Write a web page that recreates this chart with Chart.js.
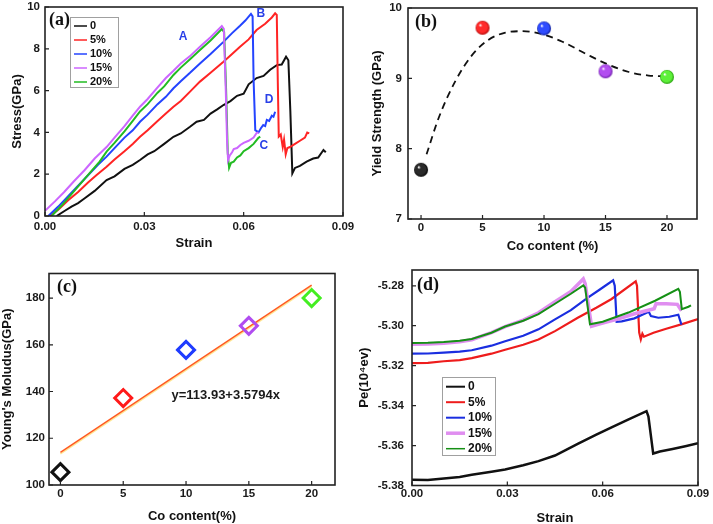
<!DOCTYPE html>
<html><head><meta charset="utf-8">
<script src="https://cdn.jsdelivr.net/npm/chart.js@4.4.1/dist/chart.umd.min.js"></script>
<style>
html,body{margin:0;padding:0;background:#fff;}
#wrap{position:relative;width:713px;height:524px;overflow:hidden;background:#fff;}
canvas{position:absolute;}
</style></head><body>
<div id="wrap">
<canvas id="ca" width="356" height="262" style="left:0;top:0;width:356px;height:262px"></canvas>
<canvas id="cb" width="357" height="262" style="left:356px;top:0;width:357px;height:262px"></canvas>
<canvas id="cc" width="356" height="262" style="left:0;top:262px;width:356px;height:262px"></canvas>
<canvas id="cd" width="357" height="262" style="left:356px;top:262px;width:357px;height:262px"></canvas>
</div>
<script>
// ---------------- DATA ----------------
const seriesLabels = ['0', '5%', '10%', '15%', '20%'];

// (a) stress-strain
const aStrain0 = [0.0035,0.006,0.008,0.010,0.012,0.015,0.0186,0.021,0.024,0.0265,0.0287,0.031,0.033,0.036,0.0388,0.041,0.0438,0.0458,0.048,0.050,0.052,0.0539,0.056,0.058,0.060,0.0615,0.0639,0.066,0.068,0.070,0.0715,0.0728,0.0735,0.0741,0.0747,0.0755,0.077,0.079,0.081,0.0825,0.0841,0.0848];
const aStress0 = [0,0.25,0.45,0.62,0.85,1.2,1.72,1.9,2.25,2.45,2.68,2.95,3.1,3.45,3.79,3.95,4.27,4.51,4.6,4.9,5.1,5.31,5.5,5.75,5.85,6.3,6.6,6.7,7.0,7.22,7.25,7.62,7.45,5.0,2.04,2.3,2.4,2.6,2.75,2.8,3.16,3.05];
const aStrain5 = [0.0015,0.004,0.007,0.010,0.013,0.0155,0.0186,0.021,0.024,0.0265,0.0287,0.031,0.034,0.0365,0.0388,0.041,0.0438,0.0468,0.050,0.0539,0.0565,0.0589,0.0615,0.0639,0.0665,0.0685,0.0695,0.0700,0.0703,0.0706,0.0712,0.0718,0.0722,0.0727,0.0732,0.074,0.0755,0.077,0.0785,0.0792,0.0798];
const aStress5 = [0,0.3,0.75,1.15,1.6,1.95,2.36,2.7,3.1,3.45,3.79,4.1,4.55,4.9,5.23,5.5,5.95,6.43,6.85,7.38,7.75,8.1,8.45,8.9,9.2,9.5,9.7,9.62,6.5,3.8,3.9,3.3,3.65,2.95,3.25,3.3,3.45,3.6,3.75,3.99,3.95];
const aStrain10 = [0.001,0.004,0.007,0.010,0.013,0.016,0.0186,0.021,0.024,0.0265,0.0287,0.031,0.034,0.0365,0.0388,0.041,0.0438,0.0468,0.050,0.0539,0.0565,0.0589,0.0605,0.0622,0.0627,0.063,0.0635,0.0645,0.0652,0.0659,0.0665,0.067,0.0677,0.0685,0.069,0.0695];
const aStress10 = [0,0.45,0.95,1.45,1.95,2.45,2.84,3.25,3.75,4.1,4.51,4.85,5.35,5.7,6.11,6.45,6.85,7.3,7.75,8.33,8.75,9.1,9.35,9.67,9.55,6.5,4.11,4.0,4.2,4.35,4.3,4.6,4.55,4.8,4.75,4.99];
const aStrain15 = [0,0.003,0.0058,0.0086,0.012,0.015,0.0186,0.021,0.024,0.0265,0.0287,0.031,0.034,0.0365,0.0388,0.041,0.0438,0.0468,0.050,0.0534,0.054,0.0546,0.055,0.0553,0.0558,0.0565,0.057,0.058,0.059,0.060,0.0615,0.063,0.0639,0.0645];
const aStress15 = [0.25,0.7,1.15,1.64,2.2,2.75,3.3,3.75,4.3,4.8,5.23,5.6,6.15,6.6,6.95,7.3,7.65,8.1,8.55,9.09,8.95,6.0,3.5,2.68,2.9,3.05,3.2,3.25,3.4,3.5,3.6,3.75,3.97,4.0];
const aStrain20 = [0.002,0.005,0.008,0.011,0.014,0.0165,0.0186,0.021,0.024,0.0265,0.0287,0.031,0.034,0.036,0.0388,0.041,0.0438,0.0468,0.050,0.0534,0.0541,0.0547,0.0552,0.0556,0.0562,0.057,0.058,0.059,0.060,0.0615,0.063,0.0644,0.065];
const aStress20 = [0,0.5,1.05,1.6,2.15,2.6,3.08,3.5,4.05,4.55,5.0,5.35,5.9,6.2,6.75,7.1,7.5,7.94,8.4,8.95,8.8,6.0,3.0,2.3,2.55,2.6,2.8,2.9,3.1,3.25,3.45,3.73,3.8];
const aNoteText = ['A', 'B', 'C', 'D'];
const aNoteStrain = [0.0417, 0.0652, 0.0661, 0.0677];
const aNoteStress = [8.56, 9.67, 3.35, 5.55];

// (b) yield strength
const coContent = [0, 5, 10, 15, 20];
const yieldStrength = [7.70, 9.72, 9.71, 9.10, 9.02];
const bFitCo = [0.45, 1.44, 2.79, 4.15, 5.5, 6.86, 8.2, 9.8, 11.5, 13.6, 15.3, 16.9, 18.5, 20];
const bFitYS = [7.92, 8.44, 8.96, 9.33, 9.55, 9.65, 9.67, 9.63, 9.52, 9.33, 9.19, 9.09, 9.04, 9.03];

// (c) Young's modulus
const youngModulus = [105.5, 137.2, 157.8, 168.1, 180.0];
const cFitCo = [0, 20];
const cFitE = [113.93, 185.52];
const cEquation = 'y=113.93+3.5794x';

// (d) potential energy
const dStrain0 = [0,0.005,0.010,0.015,0.0188,0.025,0.0293,0.035,0.0398,0.045,0.0523,0.058,0.0628,0.068,0.0738,0.0744,0.0759,0.078,0.082,0.086,0.09];
const dPe0 = [-5.3771,-5.3772,-5.3765,-5.3757,-5.3746,-5.3731,-5.3720,-5.3699,-5.3678,-5.3650,-5.3590,-5.3545,-5.3509,-5.3470,-5.3428,-5.3455,-5.3640,-5.3630,-5.3617,-5.3603,-5.3588];
const dStrain5 = [0,0.005,0.010,0.015,0.0188,0.025,0.0293,0.035,0.0398,0.045,0.0523,0.058,0.0628,0.0704,0.0708,0.0715,0.072,0.0725,0.073,0.076,0.080,0.085,0.09];
const dPe5 = [-5.3187,-5.3186,-5.3178,-5.3172,-5.3162,-5.3140,-5.3120,-5.3095,-5.3069,-5.3027,-5.2959,-5.2910,-5.2866,-5.2778,-5.2800,-5.3035,-5.3068,-5.3040,-5.3055,-5.3035,-5.3015,-5.2992,-5.2967];
const dStrain10 = [0,0.005,0.010,0.015,0.0188,0.025,0.0293,0.035,0.0398,0.045,0.050,0.055,0.059,0.0633,0.0638,0.0644,0.066,0.070,0.0735,0.0745,0.0752,0.0775,0.081,0.0838,0.0848];
const dPe10 = [-5.3140,-5.3139,-5.3135,-5.3130,-5.3123,-5.3100,-5.3078,-5.3050,-5.3018,-5.2968,-5.2922,-5.2863,-5.2820,-5.2773,-5.2800,-5.2980,-5.2978,-5.2963,-5.2938,-5.2930,-5.2952,-5.2960,-5.2955,-5.2945,-5.2995];
const dStrain15 = [0,0.005,0.010,0.015,0.0188,0.025,0.0293,0.035,0.0398,0.045,0.050,0.0539,0.0545,0.0565,0.060,0.065,0.070,0.0762,0.0768,0.080,0.0835,0.0848];
const dPe15 = [-5.3093,-5.3092,-5.3088,-5.3080,-5.3070,-5.3035,-5.3005,-5.2972,-5.2935,-5.2880,-5.2828,-5.2766,-5.2790,-5.3003,-5.2987,-5.2965,-5.2940,-5.2915,-5.2890,-5.2890,-5.2893,-5.2925];
const dStrain20 = [0,0.005,0.010,0.015,0.0188,0.025,0.0293,0.035,0.0398,0.045,0.050,0.0539,0.0545,0.056,0.060,0.0681,0.0765,0.0838,0.0843,0.0849,0.087,0.0878];
const dPe20 = [-5.3086,-5.3085,-5.3082,-5.3075,-5.3066,-5.3035,-5.3004,-5.2975,-5.2942,-5.2890,-5.2840,-5.2798,-5.2810,-5.2993,-5.2980,-5.2934,-5.2875,-5.2815,-5.2830,-5.2917,-5.2905,-5.2898];

// tick labels
const strainTicks = [0, 0.03, 0.06, 0.09];
const stressTicks = [0, 2, 4, 6, 8, 10];
const coTicks = [0, 5, 10, 15, 20];
const ysTicks = [7, 8, 9, 10];
const eTicks = [100, 120, 140, 160, 180];
const peTicks = [-5.38, -5.36, -5.34, -5.32, -5.30, -5.28];

// ---------------- DRAWING ----------------
const SANS = "'Liberation Sans', Arial, Helvetica, sans-serif";
Chart.defaults.font.family = SANS;
Chart.defaults.font.weight = 'bold';
Chart.defaults.color = '#1a1a1a';

const framePlugin = {
  id: 'frame',
  afterDatasetsDraw(chart, args, o) {
    const {ctx, chartArea: a} = chart;
    const xs = chart.scales.x, ys = chart.scales.y;
    ctx.save();
    ctx.strokeStyle = '#222';
    ctx.lineWidth = 1.6;
    ctx.strokeRect(a.left, a.top, a.right - a.left, a.bottom - a.top);
    ctx.lineWidth = 1.2;
    ctx.beginPath();
    xs.ticks.forEach(t => { const p = xs.getPixelForValue(t.value); ctx.moveTo(p, a.bottom); ctx.lineTo(p, a.bottom - 4); });
    ys.ticks.forEach(t => { const p = ys.getPixelForValue(t.value); ctx.moveTo(a.left, p); ctx.lineTo(a.left + 4, p); });
    ctx.stroke();
    if (o.label) {
      ctx.font = "bold 18px 'Liberation Serif', 'Times New Roman', serif";
      ctx.fillStyle = '#111';
      ctx.textAlign = 'left';
      ctx.textBaseline = 'middle';
      ctx.fillText(o.label, a.left + o.lx, a.top + o.ly);
    }
    ctx.restore();
  }
};

const boxLegend = {
  id: 'boxLegend',
  afterDraw(chart, args, o) {
    if (!o || !o.show) return;
    const ctx = chart.ctx;
    ctx.save();
    ctx.fillStyle = '#fff';
    ctx.fillRect(o.x, o.y, o.w, o.h);
    ctx.strokeStyle = '#a0a0a0';
    ctx.lineWidth = 1;
    ctx.strokeRect(o.x + 0.5, o.y + 0.5, o.w, o.h);
    ctx.font = 'bold ' + o.size + 'px ' + SANS;
    ctx.textAlign = 'left';
    ctx.textBaseline = 'middle';
    chart.data.datasets.filter(d => seriesLabels.includes(d.label)).forEach((d, i) => {
      const y = o.y0 + i * o.dy;
      ctx.strokeStyle = d.borderColor;
      ctx.lineWidth = d.legendWidth || 1.5;
      ctx.beginPath(); ctx.moveTo(o.lx0, y); ctx.lineTo(o.lx1, y); ctx.stroke();
      ctx.fillStyle = '#111';
      ctx.fillText(d.label, o.tx, y);
    });
    ctx.restore();
  }
};

const notesPlugin = {
  id: 'notes',
  afterDatasetsDraw(chart, args, o) {
    if (!o || !o.items) return;
    const ctx = chart.ctx, xs = chart.scales.x, ys = chart.scales.y;
    ctx.save();
    ctx.textAlign = 'center';
    ctx.textBaseline = 'middle';
    o.items.forEach(it => {
      ctx.font = 'bold ' + it.size + 'px ' + SANS;
      ctx.fillStyle = it.color;
      ctx.fillText(it.text, xs.getPixelForValue(it.x), ys.getPixelForValue(it.y));
    });
    ctx.restore();
  }
};
Chart.register(framePlugin, boxLegend, notesPlugin);

const P = (xs, ys) => xs.map((x, i) => ({x, y: ys[i]}));
function lineDs(label, xs, ys, color, width, order, legendWidth) {
  return {label, data: P(xs, ys), borderColor: color, backgroundColor: color, borderWidth: width,
          pointRadius: 0, tension: 0, order, fill: false, legendWidth: legendWidth || 1.5};
}
function zeroPad(s) { s.paddingLeft = 0; s.paddingRight = 0; s.paddingTop = 0; s.paddingBottom = 0; }

function baseOptions(p) {
  return {
    responsive: false, animation: false, events: [],
    layout: {padding: {left: 0, top: p.top, right: p.W - p.right, bottom: 0}},
    plugins: {
      legend: {display: false}, tooltip: {enabled: false},
      frame: {label: p.label, lx: p.lx, ly: p.ly},
      boxLegend: p.legend || {show: false},
      notes: {items: p.notes || []}
    },
    scales: {
      x: {
        type: 'linear', position: 'bottom', min: p.xmin, max: p.xmax,
        grid: {display: false, drawTicks: false}, border: {display: false},
        afterBuildTicks: s => { s.ticks = p.xticks.map(v => ({value: v})); },
        afterFit: s => { s.height = p.H - p.bottom; zeroPad(s); },
        ticks: {autoSkip: false, maxRotation: 0, minRotation: 0, padding: p.xtp, color: '#1a1a1a',
                font: {size: 11.5, weight: 'bold'}, callback: p.xfmt},
        title: {display: true, text: p.xtitle, color: '#111', font: {size: 13, weight: 'bold'},
                padding: {top: 0, bottom: p.xtb}}
      },
      y: {
        type: 'linear', position: 'left', min: p.ymin, max: p.ymax,
        grid: {display: false, drawTicks: false}, border: {display: false},
        afterBuildTicks: s => { s.ticks = p.yticks.map(v => ({value: v})); },
        afterFit: s => { s.width = p.left; zeroPad(s); },
        ticks: {autoSkip: false, padding: p.ytp, color: '#1a1a1a',
                font: {size: 11.5, weight: 'bold'}, callback: p.yfmt},
        title: {display: true, text: p.ytitle, color: '#111', font: {size: 13, weight: 'bold'},
                padding: {top: p.ytt, bottom: 0}}
      }
    }
  };
}

// (a)
const colA = ['#111111', '#ff2424', '#2444ff', '#cc66ff', '#22bb22'];
new Chart(document.getElementById('ca'), {
  type: 'line',
  data: {datasets: [
    lineDs(seriesLabels[0], aStrain0, aStress0, colA[0], 2, 4),
    lineDs(seriesLabels[1], aStrain5, aStress5, colA[1], 2, 3),
    lineDs(seriesLabels[2], aStrain10, aStress10, colA[2], 2, 2),
    lineDs(seriesLabels[3], aStrain15, aStress15, colA[3], 2, 0),
    lineDs(seriesLabels[4], aStrain20, aStress20, colA[4], 2, 1)
  ]},
  options: baseOptions({
    W: 356, H: 262, left: 45, right: 343, top: 7, bottom: 216,
    xmin: 0, xmax: 0.09, ymin: 0, ymax: 10, xticks: strainTicks, yticks: stressTicks,
    xfmt: v => v.toFixed(2), yfmt: v => String(v),
    xtitle: 'Strain', ytitle: 'Stress(GPa)', xtp: 4, ytp: 5, xtb: 11, ytt: 10,
    label: '(a)', lx: 4, ly: 13,
    legend: {show: true, x: 70, y: 17, w: 48, h: 70, y0: 26, dy: 14, lx0: 74, lx1: 87, tx: 90, size: 11},
    notes: aNoteText.map((t, i) => ({text: t, x: aNoteStrain[i], y: aNoteStress[i], color: '#2a40e8', size: 12}))
  })
});

// (b) spheres
function sphere(base, dark, r) {
  const c = document.createElement('canvas');
  const s = 2 * r + 2;
  c.width = s; c.height = s;
  const g = c.getContext('2d');
  const cx = s / 2;
  const grad = g.createRadialGradient(cx - r * 0.35, cx - r * 0.4, r * 0.05, cx, cx, r);
  grad.addColorStop(0, '#ffffff');
  grad.addColorStop(0.22, base);
  grad.addColorStop(0.75, base);
  grad.addColorStop(1, dark);
  g.fillStyle = grad;
  g.beginPath(); g.arc(cx, cx, r, 0, Math.PI * 2); g.fill();
  return c;
}
const sphBase = ['#2a2a2a', '#ff2a2a', '#2f4cff', '#b24ef0', '#5ef03a'];
const sphDark = ['#000000', '#b00000', '#10209a', '#6a1aa8', '#2aa010'];
const sphImgs = sphBase.map((b, i) => sphere(b, sphDark[i], 7));

new Chart(document.getElementById('cb'), {
  type: 'line',
  data: {datasets: [
    {label: 'fit', data: P(bFitCo, bFitYS), borderColor: '#111', borderWidth: 1.8, borderDash: [7, 5],
     pointRadius: 0, cubicInterpolationMode: 'monotone', fill: false, order: 2},
    {label: 'Yield', data: P(coContent, yieldStrength), showLine: false, pointStyle: sphImgs,
     pointRadius: 8, borderWidth: 0, order: 0}
  ]},
  options: baseOptions({
    W: 357, H: 262, left: 52, right: 341, top: 6, bottom: 219,
    xmin: -1.06, xmax: 22.44, ymin: 7, ymax: 10, xticks: coTicks, yticks: ysTicks,
    xfmt: v => String(v), yfmt: v => String(v),
    xtitle: 'Co content (%)', ytitle: 'Yield Strength (GPa)', xtp: 2, ytp: 6, xtb: 7.5, ytt: 13.5,
    label: '(b)', lx: 7, ly: 14.5
  })
});

// (c)
const diamondCol = ['#111111', '#ff1a1a', '#1f3cff', '#b04cf0', '#44ee22'];
new Chart(document.getElementById('cc'), {
  type: 'line',
  data: {datasets: [
    {label: 'fitShadow', data: P(cFitCo, cFitE.map(v => v - 0.6)), borderColor: 'rgba(255,225,120,0.8)', borderWidth: 1.5,
     pointRadius: 0, fill: false, order: 3},
    {label: 'fit', data: P(cFitCo, cFitE), borderColor: '#ff5a22', borderWidth: 1.5, pointRadius: 0, fill: false, order: 2},
    {label: 'E', data: P(coContent, youngModulus), showLine: false, pointStyle: 'rectRot', pointRadius: 8.5,
     pointBorderWidth: 3, pointBorderColor: diamondCol, pointBackgroundColor: 'rgba(255,255,255,0)', order: 0}
  ]},
  options: baseOptions({
    W: 356, H: 262, left: 49, right: 335, top: 8, bottom: 223,
    xmin: -0.91, xmax: 21.86, ymin: 100, ymax: 190.5, xticks: coTicks, yticks: eTicks,
    xfmt: v => String(v), yfmt: v => String(v),
    xtitle: 'Co content(%)', ytitle: "Young's Moludus(GPa)", xtp: 2, ytp: 4, xtb: 0, ytt: 0,
    label: '(c)', lx: 8, ly: 14,
    notes: [{text: cEquation, x: 13.16, y: 138.2, color: '#1a1a1a', size: 13}]
  })
});

// (d)
const colD = ['#111111', '#ee1c1c', '#1a2ee0', '#e08ef0', '#159015'];
new Chart(document.getElementById('cd'), {
  type: 'line',
  data: {datasets: [
    lineDs(seriesLabels[0], dStrain0, dPe0, colD[0], 2.5, 4, 2),
    lineDs(seriesLabels[1], dStrain5, dPe5, colD[1], 2.2, 3, 2),
    lineDs(seriesLabels[2], dStrain10, dPe10, colD[2], 2.2, 2, 2),
    lineDs(seriesLabels[3], dStrain15, dPe15, colD[3], 3.5, 1, 3.5),
    lineDs(seriesLabels[4], dStrain20, dPe20, colD[4], 2, 0, 1.5)
  ]},
  options: baseOptions({
    W: 357, H: 262, left: 56, right: 342, top: 8, bottom: 223.5,
    xmin: 0, xmax: 0.09, ymin: -5.38, ymax: -5.2721, xticks: strainTicks, yticks: peTicks,
    xfmt: v => v.toFixed(2), yfmt: v => v.toFixed(2),
    xtitle: 'Strain', ytitle: 'Pe(10\u2074ev)', xtp: 1, ytp: 8, xtb: -2, ytt: 1,
    label: '(d)', lx: 5, ly: 15,
    legend: {show: true, x: 86, y: 115, w: 53, h: 78, y0: 124.7, dy: 15.5, lx0: 90, lx1: 109, tx: 112, size: 12}
  })
});
</script>
</body></html>
